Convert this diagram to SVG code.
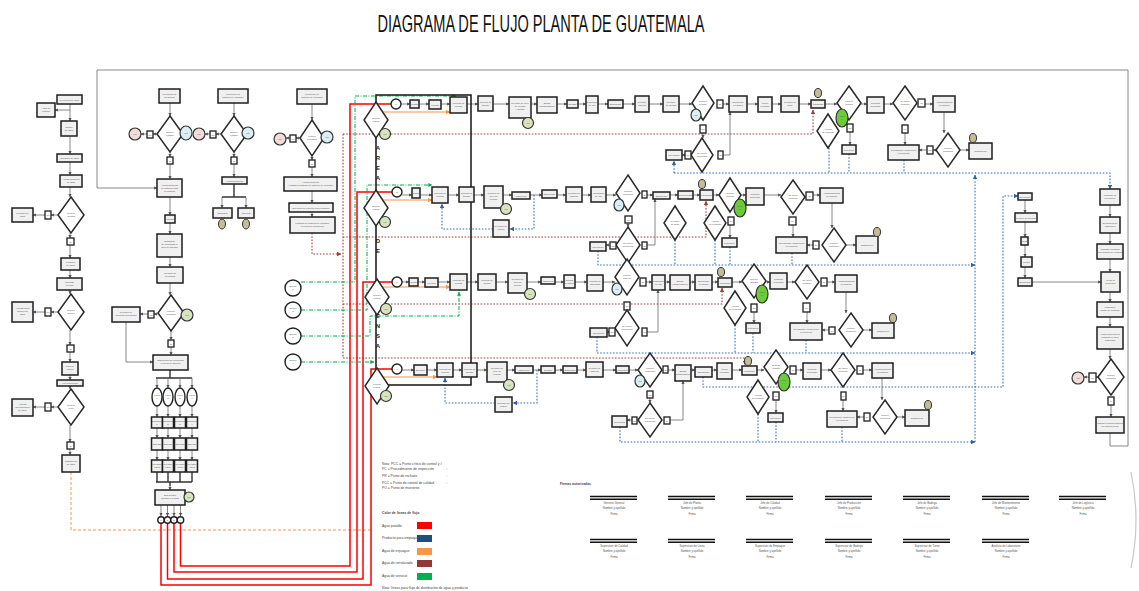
<svg xmlns="http://www.w3.org/2000/svg" width="1139" height="591" viewBox="0 0 1139 591">
<defs>
<marker id="ar" viewBox="0 0 6 6" refX="5.5" refY="3" markerWidth="4" markerHeight="4" orient="auto"><path d="M0,0L6,3L0,6z" fill="#555"/></marker>
<marker id="ab" viewBox="0 0 6 6" refX="5.5" refY="3" markerWidth="4" markerHeight="4" orient="auto"><path d="M0,0L6,3L0,6z" fill="#2e5fa3"/></marker>
<marker id="abr" viewBox="0 0 6 6" refX="5.5" refY="3" markerWidth="4" markerHeight="4" orient="auto"><path d="M0,0L6,3L0,6z" fill="#a33a3a"/></marker>
<marker id="ag" viewBox="0 0 6 6" refX="5.5" refY="3" markerWidth="4" markerHeight="4" orient="auto"><path d="M0,0L6,3L0,6z" fill="#00b050"/></marker>
<marker id="ao" viewBox="0 0 6 6" refX="5.5" refY="3" markerWidth="4" markerHeight="4" orient="auto"><path d="M0,0L6,3L0,6z" fill="#f79646"/></marker>
<style>
.b{fill:#f0f0f0;stroke:#1e1e1e;stroke-width:1.5}
.d{fill:#fff;stroke:#2a2a2a;stroke-width:1.5}
.s{fill:#fff;stroke:#1e1e1e;stroke-width:1.3}
.t{font-family:"Liberation Sans",Arial,sans-serif;font-size:2.3px;fill:#555;text-anchor:middle}
.c{fill:none;stroke:#6a6a6a;stroke-width:.8;marker-end:url(#ar)}
.ln{fill:none;stroke:#333;stroke-width:1.4}
.bd{fill:none;stroke:#3a6db5;stroke-width:1.1;stroke-dasharray:1.6 1.6}
.bda{marker-end:url(#ab)}
.br{fill:none;stroke:#a33a3a;stroke-width:1.1;stroke-dasharray:1.6 1.6}
.gd{fill:none;stroke:#00b050;stroke-width:1;stroke-dasharray:4 1.5 1 1.5;marker-end:url(#ag)}
.or{fill:none;stroke:#f79646;stroke-width:1.2;marker-end:url(#ao)}
.od{fill:none;stroke:#f79646;stroke-width:1;stroke-dasharray:3 2}
.rd{fill:none;stroke:#ff0000;stroke-width:1.5}
.pk{fill:#f2dcdb;stroke:#333;stroke-width:1.2}
.bl{fill:#dbeef4;stroke:#333;stroke-width:1.2}
.gl{fill:#d7e4bd;stroke:#333;stroke-width:1.2}
.gg{fill:#6ccb3a;stroke:#333;stroke-width:1.2}
.tn{fill:#c4bd97;stroke:#333;stroke-width:1}
.ci{fill:#fff;stroke:#222;stroke-width:1.4}
.lg{font-family:"Liberation Sans",Arial,sans-serif;font-size:3.4px;fill:#444}
.sg{font-family:"Liberation Sans",Arial,sans-serif;font-size:2.8px;fill:#555;text-anchor:middle}
.sl{stroke:#111;stroke-width:1.4}
.vl{font-family:"Liberation Sans",Arial,sans-serif;font-size:6px;font-weight:bold;fill:#222;text-anchor:middle}
</style>
</defs>
<rect width="1139" height="591" fill="#fff"/>
<text x="541" y="32" font-family="'Liberation Sans',Arial,sans-serif" font-size="24" fill="#111" text-anchor="middle" textLength="327" lengthAdjust="spacingAndGlyphs">DIAGRAMA DE FLUJO PLANTA DE GUATEMALA</text>

<g id="connectors">
<path class="c" d="M1110,433V446H1128V70H97V188H157"/>
<path class="c" d="M70,104V121"/><path class="c" d="M70,110H55"/><path class="c" d="M70,136V154"/><path class="c" d="M70,162V175"/><path class="c" d="M70,187V197"/>
<path class="c" d="M58,215H51"/><path class="c" d="M45,215H33"/><path class="c" d="M70,233V238"/><path class="c" d="M70,245V258"/><path class="c" d="M70,270V278"/><path class="c" d="M70,290V294"/>
<path class="c" d="M58,312H51"/><path class="c" d="M45,312H33"/><path class="c" d="M70,330V345"/><path class="c" d="M70,352V362"/><path class="c" d="M70,375V380"/><path class="c" d="M70,386V389"/>
<path class="c" d="M58,407H51"/><path class="c" d="M45,407H33"/><path class="c" d="M70,425V442"/><path class="c" d="M70,449V455"/>
<path class="od" d="M71,472V530H372"/>
<path class="c" d="M170,103V116"/><path class="c" d="M157,134H153"/><path class="c" d="M147,134H141"/><path class="c" d="M170,152V157"/><path class="c" d="M170,164V179"/><path class="c" d="M170,197V215"/><path class="c" d="M170,223V234"/><path class="c" d="M170,257V267"/><path class="c" d="M170,283V295"/>
<path class="c" d="M158,314H154"/><path class="c" d="M148,314H140"/><path class="c" d="M126,322V362H153"/><path class="c" d="M171,331V340"/><path class="c" d="M171,347V355"/>
<path class="ln" d="M170,370V378M156,378H192M156,482H192M170,482V486"/>
<path class="c" d="M157,378V388"/><path class="c" d="M168,378V388"/><path class="c" d="M180,378V388"/><path class="c" d="M192,378V388"/>
<path class="c" d="M157,406V417"/><path class="c" d="M168,406V417"/><path class="c" d="M180,406V417"/><path class="c" d="M192,406V417"/>
<path class="c" d="M157,428V438"/><path class="c" d="M168,428V438"/><path class="c" d="M180,428V438"/><path class="c" d="M192,428V438"/>
<path class="c" d="M157,450V460"/><path class="c" d="M168,450V460"/><path class="c" d="M180,450V460"/><path class="c" d="M192,450V460"/>
<path class="ln" d="M157,472V482M168,472V482M180,472V482M192,472V482"/>
<path class="c" d="M170,486V490"/>
<path class="c" d="M161,505V516"/><path class="c" d="M167.5,505V516"/><path class="c" d="M174,505V516"/><path class="c" d="M180.5,505V516"/>
<path class="c" d="M234,103V116"/><path class="c" d="M221,134H216"/><path class="c" d="M210,134H205"/><path class="c" d="M234,152V157"/><path class="c" d="M234,164V177"/>
<path class="ln" d="M234,184V197M222,197H246"/><path class="c" d="M222,197V208"/><path class="c" d="M246,197V208"/>
<path class="c" d="M312,104V120"/><path class="c" d="M300,138H296"/><path class="c" d="M290,138H286"/><path class="c" d="M312,156V160"/><path class="c" d="M312,167V177"/><path class="c" d="M312,191V203"/><path class="c" d="M312,212V217"/>
<path class="br" d="M312,233V254H341" marker-end="url(#abr)"/>
<path class="br" d="M343,134V358"/>
<path class="br" d="M343,134H813V110" marker-end="url(#abr)"/>
<path class="br" d="M343,237H706V201" marker-end="url(#abr)"/>
<path class="br" d="M343,304H722V288" marker-end="url(#abr)"/>
<path class="br" d="M343,358H745V365" marker-end="url(#abr)"/>
<path class="rd" d="M180.5,523V566H350V104H391"/>
<path class="rd" d="M174,523V572H357V192H392"/>
<path class="rd" d="M167.5,523V579H363V282H392"/>
<path class="rd" d="M161,523V585H371V369H392"/>
<path class="gd" d="M301,282H355V96H456"/>
<path class="gd" d="M301,310H367V185H432"/>
<path class="gd" d="M301,336H370V316H459V292"/>
<path class="gd" d="M301,362H374"/>
<path class="or" d="M381,112H450"/><path class="or" d="M381,200H432"/><path class="or" d="M382,287H450"/><path class="or" d="M382,377H437"/>
<path class="bd bda" d="M674,173H1110V189"/>
<path class="bd bda" d="M674,173V161"/>
<path class="bd" d="M829,148V173M849,154V173M904,160V173"/>
<path class="bd bda" d="M975,442V175"/>
<path class="bd bda" d="M598,251V265H975"/>
<path class="bd" d="M675,240V265M715,240V265M730,247V265M792,253V265"/>
<path class="bd bda" d="M597,337V353H975"/>
<path class="bd" d="M735,325V353M753,333V353M806,340V353"/>
<path class="bd bda" d="M620,427V442H975"/>
<path class="bd" d="M758,414V442M776,422V442M842,427V442"/>
<path class="bd bda" d="M703,377V387H1003V196H1018"/>
<path class="bd bda" d="M534,195V229H510"/>
<path class="bd bda" d="M493,229H442V204"/>
<path class="bd bda" d="M537,370V403H513"/>
<path class="bd bda" d="M495,403H445V378"/>
<path class="c" d="M401,104H410"/><path class="c" d="M419,104H429"/><path class="c" d="M441,104H450"/><path class="c" d="M467,104H478"/><path class="c" d="M493,104H509"/><path class="c" d="M531,104H537"/><path class="c" d="M557,104H567"/><path class="c" d="M578,104H586"/><path class="c" d="M598,104H608"/><path class="c" d="M623,104H635"/><path class="c" d="M649,104H663"/><path class="c" d="M679,104H692"/><path class="c" d="M723,104H729"/><path class="c" d="M747,104H758"/><path class="c" d="M772,104H781"/><path class="c" d="M799,104H811"/><path class="c" d="M825,104H837"/><path class="c" d="M861,104H867"/><path class="c" d="M884,104H893"/><path class="c" d="M925,104H933"/>
<path class="c" d="M703,133V138"/><path class="c" d="M685,155H682"/><path class="c" d="M723,155H730V112"/><path class="c" d="M850,132V145"/><path class="c" d="M905,133V145"/><path class="c" d="M944,112V133"/><path class="c" d="M936,150H933"/><path class="c" d="M927,150H919"/><path class="c" d="M960,150H969"/>
<path class="c" d="M402,195H412"/><path class="c" d="M420,195H432"/><path class="c" d="M448,195H459"/><path class="c" d="M474,195H484"/><path class="c" d="M503,195H512"/><path class="c" d="M530,195H542"/><path class="c" d="M557,195H566"/><path class="c" d="M582,195H591"/><path class="c" d="M606,195H616"/><path class="c" d="M647,195H653"/><path class="c" d="M670,195H678"/><path class="c" d="M693,195H700"/><path class="c" d="M713,195H719"/><path class="c" d="M741,195H746"/><path class="c" d="M764,195H781"/><path class="c" d="M813,195H820"/>
<path class="c" d="M628,223V227"/><path class="c" d="M647,245H655V199"/><path class="c" d="M610,245H606"/><path class="c" d="M730,225V238"/><path class="c" d="M793,225V237"/><path class="c" d="M813,245H807"/><path class="c" d="M846,245H856"/><path class="c" d="M832,203V228"/>
<path class="c" d="M402,282H409"/><path class="c" d="M418,282H425"/><path class="c" d="M438,282H450"/><path class="c" d="M467,282H478"/><path class="c" d="M496,282H508"/><path class="c" d="M527,282H541"/><path class="c" d="M555,282H564"/><path class="c" d="M575,282H587"/><path class="c" d="M603,282H615"/><path class="c" d="M646,282H652"/><path class="c" d="M665,282H670"/><path class="c" d="M690,282H695"/><path class="c" d="M712,282H718"/><path class="c" d="M732,282H742"/><path class="c" d="M766,282H770"/><path class="c" d="M787,282H795"/><path class="c" d="M827,282H835"/>
<path class="c" d="M647,332H658V290"/><path class="c" d="M609,332H607"/><path class="c" d="M754,312V323"/><path class="c" d="M807,312V323"/><path class="c" d="M829,330H822"/><path class="c" d="M863,330H872"/><path class="c" d="M846,292V313"/>
<path class="c" d="M402,370H414"/><path class="c" d="M427,370H437"/><path class="c" d="M453,370H462"/><path class="c" d="M477,370H487"/><path class="c" d="M507,370H515"/><path class="c" d="M533,370H541"/><path class="c" d="M555,370H563"/><path class="c" d="M577,370H586"/><path class="c" d="M603,370H616"/><path class="c" d="M629,370H638"/><path class="c" d="M668,370H675"/><path class="c" d="M691,370H695"/><path class="c" d="M712,370H717"/><path class="c" d="M732,370H742"/><path class="c" d="M757,370H764"/><path class="c" d="M796,370H803"/><path class="c" d="M821,370H831"/><path class="c" d="M863,370H872"/>
<path class="c" d="M650,398V403"/><path class="c" d="M670,420H683V381"/><path class="c" d="M632,420H627"/><path class="c" d="M776,400V413"/><path class="c" d="M843,400V411"/><path class="c" d="M864,417H857"/><path class="c" d="M897,417H905"/><path class="c" d="M882,378V400"/>
<path class="c" d="M1025,200V213"/><path class="c" d="M1025,222V237"/><path class="c" d="M1025,245V257"/><path class="c" d="M1025,267V278"/><path class="c" d="M1032,282H1101"/>
<path class="c" d="M1110,205V217"/><path class="c" d="M1110,233V244"/><path class="c" d="M1110,259V272"/><path class="c" d="M1110,292V302"/><path class="c" d="M1110,317V327"/><path class="c" d="M1110,349V359"/><path class="c" d="M1098,377H1096"/><path class="c" d="M1089,377H1084"/><path class="c" d="M1111,405V417"/>
</g>

<g id="area-box"><rect x="376" y="95" width="95" height="290" fill="none" stroke="#222" stroke-width="1.6"/>
<text class="vl" x="378" y="150">A</text><text class="vl" x="378" y="160">R</text><text class="vl" x="378" y="170">E</text><text class="vl" x="378" y="180">A</text>
<text class="vl" x="378" y="243">D</text><text class="vl" x="378" y="253">E</text>
<text class="vl" x="378" y="318">E</text><text class="vl" x="378" y="328">N</text><text class="vl" x="378" y="338">S</text><text class="vl" x="378" y="348">A</text></g>

<g id="a1"><rect class="b" x="57" y="95" width="25" height="9"/><text class="t" x="69.5" y="100.5">Recepción de agua</text></g>
<g id="a1b"><rect class="b" x="37" y="103" width="18" height="14"/><text class="t" x="46" y="109">Agua de</text><text class="t" x="46" y="112">rechazo</text></g>
<g id="a2"><rect class="b" x="61" y="121" width="16" height="15"/><text class="t" x="69" y="128">Tanque</text><text class="t" x="69" y="131">de agua</text></g>
<g id="a3"><rect class="b" x="57" y="154" width="25" height="8"/><text class="t" x="69.5" y="159">Cloración de agua</text></g>
<g id="a4"><rect class="b" x="60" y="175" width="22" height="12"/><text class="t" x="71" y="180">Almacenamiento</text><text class="t" x="71" y="183">de agua</text></g>
<g id="a5"><polygon class="d" points="71,197 84,215 71,233 58,215"/><text class="t" x="71" y="214">Cumple</text><text class="t" x="71" y="217">análisis</text></g>
<g id="a5n"><rect class="s" x="45" y="211" width="6" height="8"/><text class="t" x="48" y="216">No</text></g>
<g id="a5r"><rect class="b" x="12" y="208" width="21" height="14"/><text class="t" x="22.5" y="214">Rechazo de</text><text class="t" x="22.5" y="217">agua</text></g>
<g id="a5s"><rect class="s" x="67" y="238" width="7" height="7"/><text class="t" x="70.5" y="242.5">Sí</text></g>
<g id="a6"><rect class="b" x="61" y="258" width="19" height="12"/><text class="t" x="70.5" y="263">Filtración</text><text class="t" x="70.5" y="266">de agua</text></g>
<g id="a7"><rect class="b" x="57" y="278" width="25" height="12"/><text class="t" x="69.5" y="283">Osmosis</text><text class="t" x="69.5" y="286">inversa</text></g>
<g id="a8"><polygon class="d" points="71,294 84,312 71,330 58,312"/><text class="t" x="71" y="311">Cumple</text><text class="t" x="71" y="314">dureza</text></g>
<g id="a8n"><rect class="s" x="45" y="308" width="6" height="8"/><text class="t" x="48" y="313">No</text></g>
<g id="a8r"><rect class="b" x="12" y="302" width="21" height="20"/><text class="t" x="22.5" y="309">Análisis físico</text><text class="t" x="22.5" y="312">químico de</text><text class="t" x="22.5" y="315">agua</text></g>
<g id="a8s"><rect class="s" x="67" y="345" width="7" height="7"/><text class="t" x="70.5" y="349.5">Sí</text></g>
<g id="a9"><rect class="b" x="62" y="362" width="16" height="13"/><text class="t" x="70" y="367">Filtro de</text><text class="t" x="70" y="370">carbón</text></g>
<g id="a10"><rect class="b" x="57" y="380" width="26" height="6"/><text class="t" x="70" y="384">Luz ultravioleta</text></g>
<g id="a11"><polygon class="d" points="71,389 84,407 71,425 58,407"/><text class="t" x="71" y="406">Cumple</text><text class="t" x="71" y="409">cloro</text></g>
<g id="a11n"><rect class="s" x="45" y="403" width="6" height="8"/><text class="t" x="48" y="408">No</text></g>
<g id="a11r"><rect class="b" x="12" y="399" width="21" height="17"/><text class="t" x="22.5" y="405">Análisis</text><text class="t" x="22.5" y="408">microbiológico</text><text class="t" x="22.5" y="411">de agua</text></g>
<g id="a11s"><rect class="s" x="67" y="442" width="7" height="7"/><text class="t" x="70.5" y="446.5">Sí</text></g>
<g id="a12"><rect class="b" x="62" y="455" width="18" height="17"/><text class="t" x="71" y="462">Distribución</text><text class="t" x="71" y="465">de agua</text></g>

<g id="b1"><rect class="b" x="159" y="89" width="21" height="14"/><text class="t" x="169.5" y="95">Recepción de</text><text class="t" x="169.5" y="98">preformas</text></g>
<g id="b2"><polygon class="d" points="170,116 183,134 170,152 157,134"/><text class="t" x="170" y="133">Cumple</text><text class="t" x="170" y="136">calidad</text></g>
<g id="b2n"><rect class="s" x="147" y="131" width="6" height="7"/><text class="t" x="150" y="135.5">No</text></g>
<g id="b2p"><circle class="pk" cx="135" cy="134" r="6"/><text class="t" x="135" y="135">PR</text></g>
<g id="b2c"><ellipse class="bl" cx="186" cy="133" rx="6" ry="7"/><text class="t" x="186" y="134">PC</text></g>
<g id="b2s"><rect class="s" x="167" y="157" width="6" height="7"/><text class="t" x="170" y="161.5">Sí</text></g>
<g id="b3"><rect class="b" x="157" y="179" width="25" height="18"/><text class="t" x="169.5" y="186">Almacenamiento</text><text class="t" x="169.5" y="189">de materia prima</text><text class="t" x="169.5" y="192">en bodega</text></g>
<g id="b4"><rect class="b" x="165" y="215" width="10" height="8"/><text class="t" x="170" y="220">Despacho</text></g>
<g id="b5"><rect class="b" x="157" y="234" width="25" height="23"/><text class="t" x="169.5" y="242">Transporte</text><text class="t" x="169.5" y="245">de preformas al</text><text class="t" x="169.5" y="248">área de soplado</text></g>
<g id="b6"><rect class="b" x="157" y="267" width="26" height="16"/><text class="t" x="170" y="274">Revisión de</text><text class="t" x="170" y="277">preformas</text></g>
<g id="b7"><polygon class="d" points="171,295 184,313 171,331 158,313"/><text class="t" x="171" y="312">Cumple</text><text class="t" x="171" y="315">requisitos</text></g>
<g id="b7c"><circle class="gl" cx="187" cy="315" r="6"/><text class="t" x="187" y="316">PC</text></g>
<g id="b7n"><rect class="s" x="148" y="311" width="6" height="7"/><text class="t" x="151" y="315.5">No</text></g>
<g id="b7r"><rect class="b" x="112" y="307" width="28" height="15"/><text class="t" x="126" y="313">Rechazo de</text><text class="t" x="126" y="316">preforma defectuosa</text></g>
<g id="b7s"><rect class="s" x="168" y="340" width="6" height="7"/><text class="t" x="171" y="344.5">Sí</text></g>
<g id="b8"><rect class="b" x="153" y="355" width="35" height="15"/><text class="t" x="170.5" y="361">Distribución de preformas</text><text class="t" x="170.5" y="364">a líneas de soplado</text></g>
<g id="b-lines">
<ellipse class="ci" cx="157" cy="397" rx="5" ry="9"/><text class="t" x="157" y="396">Línea</text><text class="t" x="157" y="399">1</text>
<ellipse class="ci" cx="168" cy="397" rx="5" ry="9"/><text class="t" x="168" y="396">Línea</text><text class="t" x="168" y="399">2</text>
<ellipse class="ci" cx="180" cy="397" rx="5" ry="9"/><text class="t" x="180" y="396">Línea</text><text class="t" x="180" y="399">3</text>
<ellipse class="ci" cx="192" cy="397" rx="5" ry="9"/><text class="t" x="192" y="396">Línea</text><text class="t" x="192" y="399">4</text>
<rect class="b" x="151.5" y="417" width="11" height="11"/><text class="t" x="157" y="421.5">Sopladora</text><text class="t" x="157" y="424.5">1</text>
<rect class="b" x="162.5" y="417" width="11" height="11"/><text class="t" x="168" y="421.5">Sopladora</text><text class="t" x="168" y="424.5">2</text>
<rect class="b" x="174.5" y="417" width="11" height="11"/><text class="t" x="180" y="421.5">Sopladora</text><text class="t" x="180" y="424.5">3</text>
<rect class="b" x="186.5" y="417" width="11" height="11"/><text class="t" x="192" y="421.5">Sopladora</text><text class="t" x="192" y="424.5">4</text>
<rect class="b" x="151.5" y="438" width="11" height="12"/><text class="t" x="157" y="445">Soplado</text>
<rect class="b" x="162.5" y="438" width="11" height="12"/><text class="t" x="168" y="445">Soplado</text>
<rect class="b" x="174.5" y="438" width="11" height="12"/><text class="t" x="180" y="445">Soplado</text>
<rect class="b" x="186.5" y="438" width="11" height="12"/><text class="t" x="192" y="445">Soplado</text>
<rect class="b" x="151.5" y="460" width="11" height="12"/><text class="t" x="157" y="465">Revisión</text><text class="t" x="157" y="468">visual</text>
<rect class="b" x="162.5" y="460" width="11" height="12"/><text class="t" x="168" y="465">Revisión</text><text class="t" x="168" y="468">visual</text>
<rect class="b" x="174.5" y="460" width="11" height="12"/><text class="t" x="180" y="465">Revisión</text><text class="t" x="180" y="468">visual</text>
<rect class="b" x="186.5" y="460" width="11" height="12"/><text class="t" x="192" y="465">Revisión</text><text class="t" x="192" y="468">visual</text>
</g>
<g id="b9"><rect class="b" x="155" y="490" width="30" height="15"/><text class="t" x="170" y="496">Botella PET</text><text class="t" x="170" y="499">soplada a llenado</text><circle class="gl" cx="189" cy="497" r="5"/><text class="t" x="189" y="498">PC</text></g>
<g id="b10">
<circle class="ci" cx="161" cy="520" r="3.2"/><text class="t" x="161" y="521">1</text>
<circle class="ci" cx="167.5" cy="520" r="3.2"/><text class="t" x="167.5" y="521">2</text>
<circle class="ci" cx="174" cy="520" r="3.2"/><text class="t" x="174" y="521">3</text>
<circle class="ci" cx="180.5" cy="520" r="3.2"/><text class="t" x="180.5" y="521">4</text></g>

<g id="c1"><rect class="b" x="218" y="89" width="30" height="14"/><text class="t" x="233" y="95">Recepción de</text><text class="t" x="233" y="98">material de empaque</text></g>
<g id="c2"><polygon class="d" points="234,116 247,134 234,152 221,134"/><text class="t" x="234" y="133">Cumple</text><text class="t" x="234" y="136">calidad</text></g>
<g id="c2n"><rect class="s" x="210" y="131" width="6" height="7"/><text class="t" x="213" y="135.5">No</text></g>
<g id="c2p"><circle class="pk" cx="199" cy="134" r="6"/><text class="t" x="199" y="135">PR</text></g>
<g id="c2c"><circle class="bl" cx="248" cy="133" r="6"/><text class="t" x="248" y="134">PC</text></g>
<g id="c2s"><rect class="s" x="231" y="157" width="6" height="7"/><text class="t" x="234" y="161.5">Sí</text></g>
<g id="c3"><rect class="b" x="222" y="177" width="25" height="7"/><text class="t" x="234.5" y="181.5">Almacenamiento</text></g>
<g id="c4"><rect class="b" x="213" y="208" width="19" height="10"/><text class="t" x="222.5" y="214">Etiquetas</text><ellipse class="tn" cx="222" cy="224" rx="3.5" ry="5"/></g>
<g id="c5"><rect class="b" x="238" y="208" width="16" height="10"/><text class="t" x="246" y="214">Tapones</text><ellipse class="tn" cx="246" cy="224" rx="3.5" ry="5"/></g>

<g id="d1"><rect class="b" x="297" y="89" width="30" height="15"/><text class="t" x="312" y="95">Recepción de</text><text class="t" x="312" y="98">material de empaque</text></g>
<g id="d2"><polygon class="d" points="312,120 324,138 312,156 300,138"/><text class="t" x="312" y="137">Cumple</text><text class="t" x="312" y="140">requisitos</text></g>
<g id="d2n"><rect class="s" x="290" y="135" width="6" height="7"/><text class="t" x="293" y="139.5">No</text></g>
<g id="d2p"><circle class="pk" cx="280" cy="139" r="6"/><text class="t" x="280" y="140">PR</text></g>
<g id="d2c"><circle class="bl" cx="327" cy="137" r="6"/><text class="t" x="327" y="138">PC</text></g>
<g id="d2s"><rect class="s" x="309" y="160" width="6" height="7"/><text class="t" x="312" y="164.5">Sí</text></g>
<g id="d3"><rect class="b" x="284" y="177" width="53" height="14"/><text class="t" x="310.5" y="183">Almacenamiento</text><text class="t" x="310.5" y="186">y traslado a bodega de material de empaque</text></g>
<g id="d4"><rect class="b" x="289" y="203" width="44" height="9"/><text class="t" x="311" y="208.5">Selección de material para empaque</text></g>
<g id="d5"><rect class="b" x="290" y="217" width="45" height="16"/><text class="t" x="312.5" y="224">Traslado de material de empaque</text><text class="t" x="312.5" y="227">a líneas de producción</text></g>
<g id="e1"><circle class="ci" cx="293" cy="288" r="8"/><text class="t" x="293" y="287">Equipo</text><text class="t" x="293" y="290">1</text></g>
<g id="e2"><circle class="ci" cx="293" cy="310" r="8"/><text class="t" x="293" y="309">Equipo</text><text class="t" x="293" y="312">2</text></g>
<g id="e3"><circle class="ci" cx="293" cy="336" r="8"/><text class="t" x="293" y="335">Equipo</text><text class="t" x="293" y="338">3</text></g>
<g id="e4"><circle class="ci" cx="293" cy="362" r="8"/><text class="t" x="293" y="361">Equipo</text><text class="t" x="293" y="364">4</text></g>

<g id="r1d0"><polygon class="d" points="376,102 388,120 376,138 364,120"/><text class="t" x="376" y="119">Cumple</text><text class="t" x="376" y="122">botella</text><circle class="gl" cx="385" cy="134" r="5.5"/><text class="t" x="385" y="135">PC</text></g>
<g id="r1n0"><circle class="ci" cx="396" cy="104" r="5"/><text class="t" x="396" y="105">1</text></g>
<g id="r1n1"><rect class="b" x="410" y="100" width="9" height="8"/><text class="t" x="414.5" y="105">Enjuague</text></g>
<g id="r1n2"><rect class="b" x="429" y="100" width="12" height="9"/><text class="t" x="435" y="105.5">Llenado</text></g>
<g id="r1n3"><rect class="b" x="450" y="97" width="17" height="16"/><text class="t" x="458.5" y="104">Proceso de</text><text class="t" x="458.5" y="107">llenado</text></g>
<g id="r1n4"><rect class="b" x="478" y="96" width="15" height="15"/><text class="t" x="485.5" y="103">Proceso de</text><text class="t" x="485.5" y="106">tapado</text></g>
<g id="r1n5"><rect class="b" x="509" y="97" width="22" height="21"/><text class="t" x="520" y="104">Revisión de nivel</text><text class="t" x="520" y="107">de llenado</text><text class="t" x="520" y="110">y tapado</text><circle class="gl" cx="528" cy="123" r="5.5"/><text class="t" x="528" y="124">PC</text></g>
<g id="r1n6"><rect class="b" x="537" y="97" width="20" height="16"/><text class="t" x="547" y="104">Banda</text><text class="t" x="547" y="107">transportadora</text></g>
<g id="r1n7"><rect class="b" x="567" y="100" width="11" height="8"/><text class="t" x="572.5" y="105">Secado</text></g>
<g id="r1n8"><rect class="b" x="586" y="96" width="12" height="17"/><text class="t" x="592" y="103">Codificado</text><text class="t" x="592" y="106">de lote</text></g>
<g id="r1n9"><rect class="b" x="608" y="100" width="15" height="8"/><text class="t" x="615.5" y="105">Etiquetado</text></g>
<g id="r1n10"><rect class="b" x="635" y="96" width="14" height="16"/><text class="t" x="642" y="103">Revisión</text><text class="t" x="642" y="106">etiqueta</text></g>
<g id="r1n11"><rect class="b" x="663" y="96" width="16" height="16"/><text class="t" x="671" y="103">Revisión</text><text class="t" x="671" y="106">de sellado</text></g>
<g id="r1d1"><polygon class="d" points="703,86 714,103 703,120 692,103"/><text class="t" x="703" y="102">Cumple</text><text class="t" x="703" y="105">sellado</text><ellipse class="bl" cx="696" cy="115" rx="5" ry="6"/><text class="t" x="696" y="116">PC</text></g>
<g id="r1s1"><rect class="s" x="717" y="100" width="6" height="8"/><text class="t" x="720" y="105">Sí</text></g>
<g id="r1s2"><rect class="s" x="700" y="125" width="6" height="8"/><text class="t" x="703" y="130">No</text></g>
<g id="r1d2"><polygon class="d" points="702,138 713,155 702,172 691,155"/><text class="t" x="702" y="154">Se puede</text><text class="t" x="702" y="157">reprocesar</text></g>
<g id="r1s3"><rect class="s" x="685" y="151" width="6" height="8"/><text class="t" x="688" y="156">No</text></g>
<g id="r1n12"><rect class="b" x="666" y="150" width="16" height="10"/><text class="t" x="674" y="156">Reproceso</text></g>
<g id="r1s4"><rect class="s" x="718" y="151" width="5" height="8"/><text class="t" x="720.5" y="156">Sí</text></g>
<g id="r1n13"><rect class="b" x="729" y="96" width="18" height="16"/><text class="t" x="738" y="103">Empacado</text><text class="t" x="738" y="106">en fardos</text></g>
<g id="r1n14"><rect class="b" x="758" y="97" width="14" height="15"/><text class="t" x="765" y="104">Termo</text><text class="t" x="765" y="107">encogido</text></g>
<g id="r1n15"><rect class="b" x="781" y="96" width="18" height="16"/><text class="t" x="790" y="103">Revisión de</text><text class="t" x="790" y="106">fardo</text></g>
<g id="r1n16"><rect class="b" x="811" y="100" width="14" height="8"/><text class="t" x="818" y="105">Paletizado</text><ellipse class="tn" cx="818" cy="93" rx="3.5" ry="4.5"/></g>
<g id="r1d3"><polygon class="d" points="849,86 861,103 849,120 837,103"/><text class="t" x="849" y="102">Cumple</text><text class="t" x="849" y="105">análisis</text><ellipse class="gg" cx="842" cy="118" rx="6" ry="9"/><text class="t" x="842" y="117">PCC</text><text class="t" x="842" y="120">1</text></g>
<g id="r1d4"><polygon class="d" points="828,114 839,131 828,148 817,131"/><text class="t" x="828" y="130">Análisis</text><text class="t" x="828" y="133">de producto</text></g>
<g id="r1s5"><rect class="s" x="847" y="124" width="6" height="8"/><text class="t" x="850" y="129">No</text></g>
<g id="r1n17"><rect class="b" x="842" y="145" width="14" height="9"/><text class="t" x="849" y="150.5">Retención</text></g>
<g id="r1n18"><rect class="b" x="867" y="97" width="17" height="16"/><text class="t" x="875.5" y="104">Producto</text><text class="t" x="875.5" y="107">terminado</text></g>
<g id="r1d5"><polygon class="d" points="905,86 917,103 905,120 893,103"/><text class="t" x="905" y="102">Se libera</text><text class="t" x="905" y="105">producto</text></g>
<g id="r1s6"><rect class="s" x="918" y="99" width="7" height="8"/><text class="t" x="921.5" y="104">Sí</text></g>
<g id="r1n19"><rect class="b" x="933" y="96" width="22" height="16"/><text class="t" x="944" y="103">Almacenamiento</text><text class="t" x="944" y="106">en bodega</text></g>
<g id="r1s7"><rect class="s" x="902" y="125" width="6" height="8"/><text class="t" x="905" y="130">No</text></g>
<g id="r1n20"><rect class="b" x="888" y="145" width="31" height="15"/><text class="t" x="903.5" y="151">Reempaque, destrucción</text><text class="t" x="903.5" y="154">o reproceso</text></g>
<g id="r1s8"><rect class="s" x="927" y="146" width="6" height="8"/><text class="t" x="930" y="151">No</text></g>
<g id="r1d6"><polygon class="d" points="948,133 960,150 948,167 936,150"/><text class="t" x="948" y="149">Cumple</text><text class="t" x="948" y="152">despacho</text></g>
<g id="r1n21"><rect class="b" x="969" y="143" width="23" height="16"/><text class="t" x="980.5" y="152">Distribución</text><ellipse class="tn" cx="973" cy="138" rx="3.5" ry="4.5"/></g>

<g id="r2d0"><polygon class="d" points="376,190 388,208 376,226 364,208"/><text class="t" x="376" y="207">Cumple</text><text class="t" x="376" y="210">botella</text><circle class="gl" cx="385" cy="222" r="5.5"/><text class="t" x="385" y="223">PC</text></g>
<g id="r2n0"><circle class="ci" cx="397" cy="192" r="5"/><text class="t" x="397" y="193">2</text></g>
<g id="r2n1"><rect class="b" x="412" y="188" width="8" height="10"/><text class="t" x="416" y="194">Enjuague</text></g>
<g id="r2n2"><rect class="b" x="432" y="187" width="16" height="16"/><text class="t" x="440" y="194">Proceso de</text><text class="t" x="440" y="197">llenado</text></g>
<g id="r2n3"><rect class="b" x="459" y="187" width="15" height="15"/><text class="t" x="466.5" y="194">Proceso de</text><text class="t" x="466.5" y="197">tapado</text></g>
<g id="r2n4"><rect class="b" x="484" y="186" width="19" height="22"/><text class="t" x="493.5" y="194">Revisión de</text><text class="t" x="493.5" y="197">nivel de</text><text class="t" x="493.5" y="200">llenado</text><circle class="gl" cx="506" cy="209" r="5.5"/><text class="t" x="506" y="210">PC</text></g>
<g id="r2n5"><rect class="b" x="512" y="192" width="18" height="7"/><text class="t" x="521" y="196.5">Inspección</text></g>
<g id="r2n6"><rect class="b" x="542" y="190" width="15" height="8"/><text class="t" x="549.5" y="195">Etiquetado</text></g>
<g id="r2n7"><rect class="b" x="566" y="187" width="16" height="15"/><text class="t" x="574" y="194">Revisión de</text><text class="t" x="574" y="197">etiqueta</text></g>
<g id="r2n8"><rect class="b" x="591" y="187" width="15" height="15"/><text class="t" x="598.5" y="194">Codificado</text><text class="t" x="598.5" y="197">de lote</text></g>
<g id="r2d1"><polygon class="d" points="628,175 640,193 628,211 616,193"/><text class="t" x="628" y="192">Cumple</text><text class="t" x="628" y="195">codificado</text><ellipse class="bl" cx="619" cy="205" rx="5" ry="6"/><text class="t" x="619" y="206">PC</text></g>
<g id="r2s1"><rect class="s" x="642" y="191" width="5" height="7"/><text class="t" x="644.5" y="195.5">Sí</text></g>
<g id="r2s2"><rect class="s" x="625" y="216" width="7" height="7"/><text class="t" x="628.5" y="220.5">No</text></g>
<g id="r2d2"><polygon class="d" points="628,227 640,245 628,263 616,245"/><text class="t" x="628" y="244">Se puede</text><text class="t" x="628" y="247">reprocesar</text></g>
<g id="r2s3"><rect class="s" x="642" y="242" width="5" height="7"/><text class="t" x="644.5" y="246.5">Sí</text></g>
<g id="r2s4"><rect class="s" x="610" y="242" width="6" height="7"/><text class="t" x="613" y="246.5">No</text></g>
<g id="r2n9"><rect class="b" x="590" y="242" width="16" height="9"/><text class="t" x="598" y="247.5">Reproceso</text></g>
<g id="r2n10"><rect class="b" x="653" y="192" width="17" height="7"/><text class="t" x="661.5" y="196.5">Empacado</text></g>
<g id="r2n11"><rect class="b" x="678" y="191" width="15" height="8"/><text class="t" x="685.5" y="196">Termoencogido</text></g>
<g id="r2n12"><rect class="b" x="700" y="190" width="13" height="10"/><text class="t" x="706.5" y="196">Paletizado</text><ellipse class="tn" cx="702" cy="184" rx="3.5" ry="4.5"/></g>
<g id="r2d3"><polygon class="d" points="675,206 686,223 675,240 664,223"/><text class="t" x="675" y="222">Revisión</text><text class="t" x="675" y="225">de fardo</text></g>
<g id="r2d4"><polygon class="d" points="730,178 741,195 730,212 719,195"/><text class="t" x="730" y="194">Cumple</text><text class="t" x="730" y="197">análisis</text><ellipse class="gg" cx="740" cy="208" rx="6" ry="9"/><text class="t" x="740" y="207">PCC</text><text class="t" x="740" y="210">2</text></g>
<g id="r2d5"><polygon class="d" points="715,206 726,223 715,240 704,223"/><text class="t" x="715" y="222">Análisis</text><text class="t" x="715" y="225">de producto</text></g>
<g id="r2s5"><rect class="s" x="728" y="217" width="6" height="8"/><text class="t" x="731" y="222">No</text></g>
<g id="r2n13"><rect class="b" x="722" y="238" width="15" height="9"/><text class="t" x="729.5" y="243.5">Retención</text></g>
<g id="r2n14"><rect class="b" x="746" y="188" width="18" height="17"/><text class="t" x="755" y="195">Producto</text><text class="t" x="755" y="198">terminado</text></g>
<g id="r2d6"><polygon class="d" points="793,180 805,197 793,214 781,197"/><text class="t" x="793" y="196">Se libera</text><text class="t" x="793" y="199">producto</text></g>
<g id="r2s6"><rect class="s" x="806" y="192" width="7" height="8"/><text class="t" x="809.5" y="197">Sí</text></g>
<g id="r2n15"><rect class="b" x="820" y="188" width="23" height="15"/><text class="t" x="831.5" y="194">Almacenamiento</text><text class="t" x="831.5" y="197">en bodega</text></g>
<g id="r2s7"><rect class="s" x="789" y="217" width="7" height="8"/><text class="t" x="792.5" y="222">No</text></g>
<g id="r2n16"><rect class="b" x="776" y="237" width="31" height="16"/><text class="t" x="791.5" y="244">Reempaque, destrucción</text><text class="t" x="791.5" y="247">o reproceso</text></g>
<g id="r2s8"><rect class="s" x="813" y="241" width="6" height="8"/><text class="t" x="816" y="246">No</text></g>
<g id="r2d7"><polygon class="d" points="834,228 846,245 834,262 822,245"/><text class="t" x="834" y="244">Cumple</text><text class="t" x="834" y="247">despacho</text></g>
<g id="r2n17"><rect class="b" x="856" y="236" width="22" height="17"/><text class="t" x="867" y="245.5">Distribución</text><ellipse class="tn" cx="877" cy="232" rx="3.5" ry="4.5"/></g>
<g id="r2n18"><rect class="b" x="493" y="220" width="16" height="17"/><text class="t" x="501" y="227">Rechazo de</text><text class="t" x="501" y="230">botella</text></g>

<g id="r3d0"><polygon class="d" points="377,279 389,297 377,315 365,297"/><text class="t" x="377" y="296">Cumple</text><text class="t" x="377" y="299">botella</text><circle class="gl" cx="386" cy="309" r="5.5"/><text class="t" x="386" y="310">PC</text></g>
<g id="r3n0"><circle class="ci" cx="397" cy="282" r="5"/><text class="t" x="397" y="283">3</text></g>
<g id="r3n1"><rect class="b" x="409" y="278" width="9" height="8"/><text class="t" x="413.5" y="283">Enjuague</text></g>
<g id="r3n2"><rect class="b" x="425" y="278" width="13" height="9"/><text class="t" x="431.5" y="283.5">Llenado</text></g>
<g id="r3n3"><rect class="b" x="450" y="274" width="17" height="16"/><text class="t" x="458.5" y="281">Proceso de</text><text class="t" x="458.5" y="284">llenado</text></g>
<g id="r3n4"><rect class="b" x="478" y="274" width="18" height="16"/><text class="t" x="487" y="281">Proceso de</text><text class="t" x="487" y="284">tapado</text></g>
<g id="r3n5"><rect class="b" x="508" y="273" width="19" height="20"/><text class="t" x="517.5" y="280">Revisión de</text><text class="t" x="517.5" y="283">nivel de</text><text class="t" x="517.5" y="286">llenado</text><circle class="gl" cx="530" cy="294" r="5.5"/><text class="t" x="530" y="295">PC</text></g>
<g id="r3n6"><rect class="b" x="541" y="277" width="14" height="7"/><text class="t" x="548" y="281.5">Inspección</text></g>
<g id="r3n7"><rect class="b" x="564" y="275" width="11" height="13"/><text class="t" x="569.5" y="280.5">Secado</text><text class="t" x="569.5" y="283.5">de botella</text></g>
<g id="r3n8"><rect class="b" x="587" y="275" width="16" height="16"/><text class="t" x="595" y="282">Proceso de</text><text class="t" x="595" y="285">etiquetado</text></g>
<g id="r3d1"><polygon class="d" points="627,259 639,277 627,295 615,277"/><text class="t" x="627" y="276">Cumple</text><text class="t" x="627" y="279">etiqueta</text><ellipse class="bl" cx="617" cy="289" rx="5" ry="6"/><text class="t" x="617" y="290">PC</text></g>
<g id="r3s1"><rect class="s" x="640" y="278" width="6" height="8"/><text class="t" x="643" y="283">Sí</text></g>
<g id="r3s2"><rect class="s" x="624" y="302" width="6" height="8"/><text class="t" x="627" y="307">No</text></g>
<g id="r3d2"><polygon class="d" points="627,310 639,328 627,346 615,328"/><text class="t" x="627" y="327">Se puede</text><text class="t" x="627" y="330">reprocesar</text></g>
<g id="r3n9"><rect class="b" x="590" y="328" width="17" height="9"/><text class="t" x="598.5" y="333.5">Reproceso</text></g>
<g id="r3s3"><rect class="s" x="609" y="328" width="6" height="8"/><text class="t" x="612" y="333">No</text></g>
<g id="r3s4"><rect class="s" x="642" y="328" width="5" height="8"/><text class="t" x="644.5" y="333">Sí</text></g>
<g id="r3n10"><rect class="b" x="652" y="275" width="13" height="15"/><text class="t" x="658.5" y="282">Codificado</text><text class="t" x="658.5" y="285">de lote</text></g>
<g id="r3n11"><rect class="b" x="670" y="275" width="20" height="15"/><text class="t" x="680" y="282">Banda</text><text class="t" x="680" y="285">transportadora</text></g>
<g id="r3n12"><rect class="b" x="695" y="275" width="17" height="15"/><text class="t" x="703.5" y="282">Empacado</text><text class="t" x="703.5" y="285">en fardos</text></g>
<g id="r3n13"><rect class="b" x="718" y="278" width="14" height="9"/><text class="t" x="725" y="283.5">Paletizado</text><ellipse class="tn" cx="721" cy="272" rx="3.5" ry="4.5"/></g>
<g id="r3d3"><polygon class="d" points="754,264 766,281 754,298 742,281"/><text class="t" x="754" y="280">Cumple</text><text class="t" x="754" y="283">análisis</text><ellipse class="gg" cx="762" cy="294" rx="6" ry="9"/><text class="t" x="762" y="293">PCC</text><text class="t" x="762" y="296">3</text></g>
<g id="r3d4"><polygon class="d" points="735,291 746,308 735,325 724,308"/><text class="t" x="735" y="307">Análisis</text><text class="t" x="735" y="310">de producto</text></g>
<g id="r3s5"><rect class="s" x="751" y="304" width="6" height="8"/><text class="t" x="754" y="309">No</text></g>
<g id="r3n14"><rect class="b" x="746" y="323" width="14" height="10"/><text class="t" x="753" y="329">Retención</text></g>
<g id="r3n15"><rect class="b" x="770" y="273" width="17" height="16"/><text class="t" x="778.5" y="280">Producto</text><text class="t" x="778.5" y="283">terminado</text></g>
<g id="r3d5"><polygon class="d" points="807,265 819,282 807,299 795,282"/><text class="t" x="807" y="281">Se libera</text><text class="t" x="807" y="284">producto</text></g>
<g id="r3s6"><rect class="s" x="821" y="278" width="6" height="8"/><text class="t" x="824" y="283">Sí</text></g>
<g id="r3n16"><rect class="b" x="835" y="275" width="22" height="17"/><text class="t" x="846" y="282">Almacenamiento</text><text class="t" x="846" y="285">en bodega</text></g>
<g id="r3s7"><rect class="s" x="803" y="303" width="7" height="9"/><text class="t" x="806.5" y="308.5">No</text></g>
<g id="r3n17"><rect class="b" x="790" y="323" width="32" height="17"/><text class="t" x="806" y="330">Reempaque, destrucción</text><text class="t" x="806" y="333">o reproceso</text></g>
<g id="r3s8"><rect class="s" x="829" y="327" width="6" height="7"/><text class="t" x="832" y="331.5">No</text></g>
<g id="r3d6"><polygon class="d" points="851,313 863,330 851,347 839,330"/><text class="t" x="851" y="329">Cumple</text><text class="t" x="851" y="332">despacho</text></g>
<g id="r3n18"><rect class="b" x="872" y="323" width="22" height="15"/><text class="t" x="883" y="331.5">Distribución</text><ellipse class="tn" cx="893" cy="318" rx="3.5" ry="4.5"/></g>

<g id="r4d0"><polygon class="d" points="377,368 389,386 377,404 365,386"/><text class="t" x="377" y="385">Cumple</text><text class="t" x="377" y="388">botella</text><circle class="gl" cx="386" cy="396" r="5.5"/><text class="t" x="386" y="397">PC</text></g>
<g id="r4n0"><circle class="ci" cx="397" cy="369" r="5"/><text class="t" x="397" y="370">4</text></g>
<g id="r4n1"><rect class="b" x="414" y="365" width="13" height="10"/><text class="t" x="420.5" y="371">Enjuague</text></g>
<g id="r4n2"><rect class="b" x="437" y="363" width="16" height="14"/><text class="t" x="445" y="369.5">Proceso de</text><text class="t" x="445" y="372.5">llenado</text></g>
<g id="r4n3"><rect class="b" x="462" y="363" width="15" height="14"/><text class="t" x="469.5" y="369.5">Proceso de</text><text class="t" x="469.5" y="372.5">tapado</text></g>
<g id="r4n4"><rect class="b" x="487" y="362" width="20" height="20"/><text class="t" x="497" y="369">Revisión de</text><text class="t" x="497" y="372">nivel de</text><text class="t" x="497" y="375">llenado</text><circle class="gl" cx="509" cy="385" r="5.5"/><text class="t" x="509" y="386">PC</text></g>
<g id="r4n5"><rect class="b" x="515" y="366" width="18" height="7"/><text class="t" x="524" y="370.5">Inspección</text></g>
<g id="r4n6"><rect class="b" x="541" y="366" width="14" height="7"/><text class="t" x="548" y="370.5">Secado</text></g>
<g id="r4n7"><rect class="b" x="563" y="366" width="14" height="7"/><text class="t" x="570" y="370.5">Etiquetado</text></g>
<g id="r4n8"><rect class="b" x="586" y="362" width="17" height="15"/><text class="t" x="594.5" y="369">Revisión de</text><text class="t" x="594.5" y="372">etiqueta</text></g>
<g id="r4n9"><rect class="b" x="616" y="366" width="13" height="7"/><text class="t" x="622.5" y="370.5">Codificado</text></g>
<g id="r4d1"><polygon class="d" points="650,353 662,370 650,387 638,370"/><text class="t" x="650" y="369">Cumple</text><text class="t" x="650" y="372">codificado</text><ellipse class="bl" cx="640" cy="381" rx="5" ry="6"/><text class="t" x="640" y="382">PC</text></g>
<g id="r4s1"><rect class="s" x="663" y="366" width="5" height="7"/><text class="t" x="665.5" y="370.5">Sí</text></g>
<g id="r4s2"><rect class="s" x="647" y="391" width="6" height="7"/><text class="t" x="650" y="395.5">No</text></g>
<g id="r4d2"><polygon class="d" points="650,403 662,420 650,437 638,420"/><text class="t" x="650" y="419">Se puede</text><text class="t" x="650" y="422">reprocesar</text></g>
<g id="r4s3"><rect class="s" x="664" y="417" width="6" height="7"/><text class="t" x="667" y="421.5">Sí</text></g>
<g id="r4s4"><rect class="s" x="632" y="417" width="5" height="7"/><text class="t" x="634.5" y="421.5">No</text></g>
<g id="r4n10"><rect class="b" x="612" y="416" width="15" height="11"/><text class="t" x="619.5" y="422.5">Reproceso</text></g>
<g id="r4n11"><rect class="b" x="675" y="365" width="16" height="16"/><text class="t" x="683" y="372">Banda</text><text class="t" x="683" y="375">transportadora</text></g>
<g id="r4n12"><rect class="b" x="695" y="367" width="17" height="10"/><text class="t" x="703.5" y="373">Empacado</text></g>
<g id="r4n13"><rect class="b" x="717" y="363" width="15" height="16"/><text class="t" x="724.5" y="370">Termo</text><text class="t" x="724.5" y="373">encogido</text></g>
<g id="r4n14"><rect class="b" x="742" y="366" width="15" height="9"/><text class="t" x="749.5" y="371.5">Paletizado</text><ellipse class="tn" cx="748" cy="361" rx="3.5" ry="4.5"/></g>
<g id="r4d3"><polygon class="d" points="776,350 788,367 776,384 764,367"/><text class="t" x="776" y="366">Cumple</text><text class="t" x="776" y="369">análisis</text><ellipse class="gg" cx="784" cy="382" rx="6" ry="9"/><text class="t" x="784" y="381">PCC</text><text class="t" x="784" y="384">4</text></g>
<g id="r4d4"><polygon class="d" points="758,380 769,397 758,414 747,397"/><text class="t" x="758" y="396">Análisis</text><text class="t" x="758" y="399">de producto</text></g>
<g id="r4s5"><rect class="s" x="773" y="392" width="6" height="8"/><text class="t" x="776" y="397">No</text></g>
<g id="r4n15"><rect class="b" x="768" y="413" width="15" height="9"/><text class="t" x="775.5" y="418.5">Retención</text></g>
<g id="r4s6"><rect class="s" x="790" y="366" width="6" height="8"/><text class="t" x="793" y="371">Sí</text></g>
<g id="r4n16"><rect class="b" x="803" y="363" width="18" height="16"/><text class="t" x="812" y="370">Producto</text><text class="t" x="812" y="373">terminado</text></g>
<g id="r4d5"><polygon class="d" points="843,353 855,370 843,387 831,370"/><text class="t" x="843" y="369">Se libera</text><text class="t" x="843" y="372">producto</text></g>
<g id="r4s7"><rect class="s" x="857" y="366" width="6" height="8"/><text class="t" x="860" y="371">Sí</text></g>
<g id="r4n17"><rect class="b" x="872" y="363" width="21" height="15"/><text class="t" x="882.5" y="369.5">Almacenamiento</text><text class="t" x="882.5" y="372.5">en bodega</text></g>
<g id="r4s8"><rect class="s" x="841" y="392" width="5" height="8"/><text class="t" x="843.5" y="397">No</text></g>
<g id="r4n18"><rect class="b" x="827" y="411" width="30" height="16"/><text class="t" x="842" y="418">Reempaque, destrucción</text><text class="t" x="842" y="421">o reproceso</text></g>
<g id="r4s9"><rect class="s" x="864" y="413" width="6" height="8"/><text class="t" x="867" y="418">No</text></g>
<g id="r4d6"><polygon class="d" points="885,400 897,417 885,434 873,417"/><text class="t" x="885" y="416">Cumple</text><text class="t" x="885" y="419">despacho</text></g>
<g id="r4n19"><rect class="b" x="905" y="410" width="24" height="16"/><text class="t" x="917" y="419">Distribución</text><ellipse class="tn" cx="928" cy="405" rx="3.5" ry="4.5"/></g>
<g id="r4n20"><rect class="b" x="495" y="397" width="17" height="15"/><text class="t" x="503.5" y="403.5">Rechazo de</text><text class="t" x="503.5" y="406.5">botella</text></g>

<g id="f1"><rect class="b" x="1018" y="193" width="14" height="7"/><text class="t" x="1025" y="197.5">Devolución</text></g>
<g id="f2"><rect class="b" x="1015" y="213" width="22" height="9"/><text class="t" x="1026" y="218.5">Revisión de producto</text></g>
<g id="f3"><rect class="b" x="1021" y="237" width="7" height="8"/><text class="t" x="1024.5" y="242">Lavado</text></g>
<g id="f4"><rect class="b" x="1021" y="257" width="11" height="10"/><text class="t" x="1026.5" y="263">Molido</text></g>
<g id="f5"><rect class="b" x="1018" y="278" width="14" height="8"/><text class="t" x="1025" y="283">Empacado</text></g>
<g id="g1"><rect class="b" x="1100" y="189" width="20" height="16"/><text class="t" x="1110" y="196">Producto de</text><text class="t" x="1110" y="199">devolución</text></g>
<g id="g2"><rect class="b" x="1100" y="217" width="20" height="16"/><text class="t" x="1110" y="224">Separación de</text><text class="t" x="1110" y="227">materiales</text></g>
<g id="g3"><rect class="b" x="1097" y="244" width="26" height="15"/><text class="t" x="1110" y="250">Traslado a bodega</text><text class="t" x="1110" y="253">para manejo de residuos</text></g>
<g id="g4"><rect class="b" x="1101" y="272" width="19" height="20"/><text class="t" x="1110.5" y="281">Venta de</text><text class="t" x="1110.5" y="284">desechos</text></g>
<g id="g5"><rect class="b" x="1097" y="302" width="26" height="15"/><text class="t" x="1110" y="308">Traslado a</text><text class="t" x="1110" y="311">gestor de residuos</text></g>
<g id="g6"><rect class="b" x="1097" y="327" width="26" height="22"/><text class="t" x="1110" y="335">Almacenamiento de</text><text class="t" x="1110" y="338">residuos en área</text><text class="t" x="1110" y="341">autorizada</text></g>
<g id="g7"><polygon class="d" points="1111,359 1124,377 1111,395 1098,377"/><text class="t" x="1111" y="376">Cumple</text><text class="t" x="1111" y="379">requisitos</text></g>
<g id="g7n"><rect class="s" x="1089" y="373" width="7" height="9"/><text class="t" x="1092.5" y="378.5">No</text></g>
<g id="g7p"><circle class="pk" cx="1078" cy="378" r="6"/><text class="t" x="1078" y="379">PR</text></g>
<g id="g7s"><rect class="s" x="1108" y="397" width="6" height="8"/><text class="t" x="1111" y="402">Sí</text></g>
<g id="g8"><rect class="b" x="1096" y="417" width="28" height="16"/><text class="t" x="1110" y="424">Traslado a almacenamiento</text><text class="t" x="1110" y="427">de materia prima</text></g>

<g id="legend">
<text class="lg" x="382" y="465" font-size="3">Nota: PCC = Punto crítico de control y #</text>
<text class="lg" x="382" y="470" font-size="3">PC = Procedimiento de inspección</text><text class="lg" x="446" y="470" font-size="3">↓</text>
<text class="lg" x="382" y="477" font-size="3">PR = Punto de rechazo</text><text class="lg" x="446" y="477" font-size="3">↓</text>
<text class="lg" x="382" y="484" font-size="3">PCC = Punto de control de calidad</text><text class="lg" x="446" y="484" font-size="3">↓</text>
<text class="lg" x="382" y="489" font-size="3">PO = Punto de muestreo</text>
<text class="lg" x="382" y="514" font-weight="bold">Color de líneas de flujo</text>
<text class="lg" x="382" y="527">Agua potable</text><rect x="417" y="522" width="15" height="7" fill="#ff0000"/>
<text class="lg" x="382" y="539">Producto para empaque</text><rect x="417" y="535" width="15" height="7" fill="#1f4e79"/>
<text class="lg" x="382" y="552">Agua de enjuague</text><rect x="417" y="548" width="15" height="7" fill="#f79646"/>
<text class="lg" x="382" y="564">Agua de retrolavado</text><rect x="417" y="560" width="15" height="7" fill="#953735"/>
<text class="lg" x="382" y="577">Agua de servicio</text><rect x="417" y="573" width="15" height="7" fill="#00b050"/>
<text class="lg" x="382" y="589" font-size="3">Nota: líneas para flujo de distribución de agua y producto</text>
</g>
<g id="signatures">
<text class="lg" x="560" y="485" font-weight="bold">Firmas autorizadas</text>
<path class="sl" d="M590,496.5H637M590,499.3H637M668,496.5H715M668,499.3H715M746,496.5H793M746,499.3H793M825,496.5H872M825,499.3H872M903,496.5H950M903,499.3H950M982,496.5H1029M982,499.3H1029M1059,496.5H1106M1059,499.3H1106"/>
<text class="sg" x="614" y="504">Gerente General</text><text class="sg" x="614" y="509">Nombre y apellido</text><text class="sg" x="614" y="515">Firma</text>
<text class="sg" x="692" y="504">Jefe de Planta</text><text class="sg" x="692" y="509">Nombre y apellido</text><text class="sg" x="692" y="515">Firma</text>
<text class="sg" x="770" y="504">Jefe de Calidad</text><text class="sg" x="770" y="509">Nombre y apellido</text><text class="sg" x="770" y="515">Firma</text>
<text class="sg" x="849" y="504">Jefe de Producción</text><text class="sg" x="849" y="509">Nombre y apellido</text><text class="sg" x="849" y="515">Firma</text>
<text class="sg" x="927" y="504">Jefe de Bodega</text><text class="sg" x="927" y="509">Nombre y apellido</text><text class="sg" x="927" y="515">Firma</text>
<text class="sg" x="1006" y="504">Jefe de Mantenimiento</text><text class="sg" x="1006" y="509">Nombre y apellido</text><text class="sg" x="1006" y="515">Firma</text>
<text class="sg" x="1083" y="504">Jefe de Logística</text><text class="sg" x="1083" y="509">Nombre y apellido</text><text class="sg" x="1083" y="515">Firma</text>
<path class="sl" d="M590,539.5H637M590,542.3H637M668,539.5H715M668,542.3H715M746,539.5H793M746,542.3H793M825,539.5H872M825,542.3H872M903,539.5H950M903,542.3H950M982,539.5H1029M982,542.3H1029"/>
<text class="sg" x="614" y="547">Supervisor de Calidad</text><text class="sg" x="614" y="552">Nombre y apellido</text><text class="sg" x="614" y="558">Firma</text>
<text class="sg" x="692" y="547">Supervisor de Línea</text><text class="sg" x="692" y="552">Nombre y apellido</text><text class="sg" x="692" y="558">Firma</text>
<text class="sg" x="770" y="547">Supervisor de Empaque</text><text class="sg" x="770" y="552">Nombre y apellido</text><text class="sg" x="770" y="558">Firma</text>
<text class="sg" x="849" y="547">Supervisor de Bodega</text><text class="sg" x="849" y="552">Nombre y apellido</text><text class="sg" x="849" y="558">Firma</text>
<text class="sg" x="927" y="547">Supervisor de Turno</text><text class="sg" x="927" y="552">Nombre y apellido</text><text class="sg" x="927" y="558">Firma</text>
<text class="sg" x="1006" y="547">Analista de Laboratorio</text><text class="sg" x="1006" y="552">Nombre y apellido</text><text class="sg" x="1006" y="558">Firma</text>
</g>
<path d="M1131,472Q1141,520 1131,568" fill="none" stroke="#c8c8c8" stroke-width="1.2"/>
</svg>
